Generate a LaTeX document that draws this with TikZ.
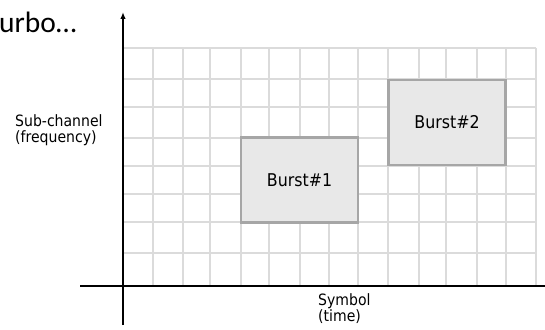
\documentclass[tikz,border=0pt]{standalone}
\usepackage{fontspec}
\setmainfont{DejaVu Sans}[FakeStretch=0.9]
\newfontfamily\titlefont{Carlito}
\usetikzlibrary{arrows.meta}
\begin{document}
\begin{tikzpicture}[x=1pt,y=-1pt,
  gridline/.style={draw=black!14,line width=1.3pt},
  axis/.style={draw=black,line width=1.4pt},
  burst/.style={draw=black!35,fill=black!9,line width=2.2pt,inner sep=0pt,
    minimum width=117pt,minimum height=85pt,font=\fontsize{17.6}{20}\selectfont},
  lbl/.style={align=left,inner sep=0pt,font=\fontsize{15.6}{16.5}\selectfont}]
\useasboundingbox (0,0) rectangle (545,329);
% grid
\foreach \x in {153,183,210,241,269,300,329,358,388,419,446,477,506,536}
  \draw[gridline] (\x,48) -- (\x,286);
\foreach \y in {48,79,107,138,166,194,222,253}
  \draw[gridline] (124,\y) -- (536,\y);
% bursts
\node[burst] (b1) at (299.5,180) {Burst\#1};
\node[burst] (b2) at (447,122.5) {Burst\#2};
% axes
\coordinate (yb) at (123,325);
\coordinate (yt) at (123,12);
\coordinate (xl) at (80,286);
\coordinate (xr) at (545,286);
\draw[axis] (xl) -- (xr);
\draw[axis,-{Latex[length=7pt,width=5.5pt]}] (yb) -- (yt);
% labels
\node[lbl,anchor=west] (ylab) at (15,130) {Sub-channel\\(frequency)};
\node[lbl,anchor=north west] (xlab) at (318,293) {Symbol\\(time)};
\node[anchor=base west,inner sep=0pt,font=\titlefont\fontsize{29.5}{31}\selectfont] (title) at (-1,33) {urbo…};
\end{tikzpicture}
\end{document}
